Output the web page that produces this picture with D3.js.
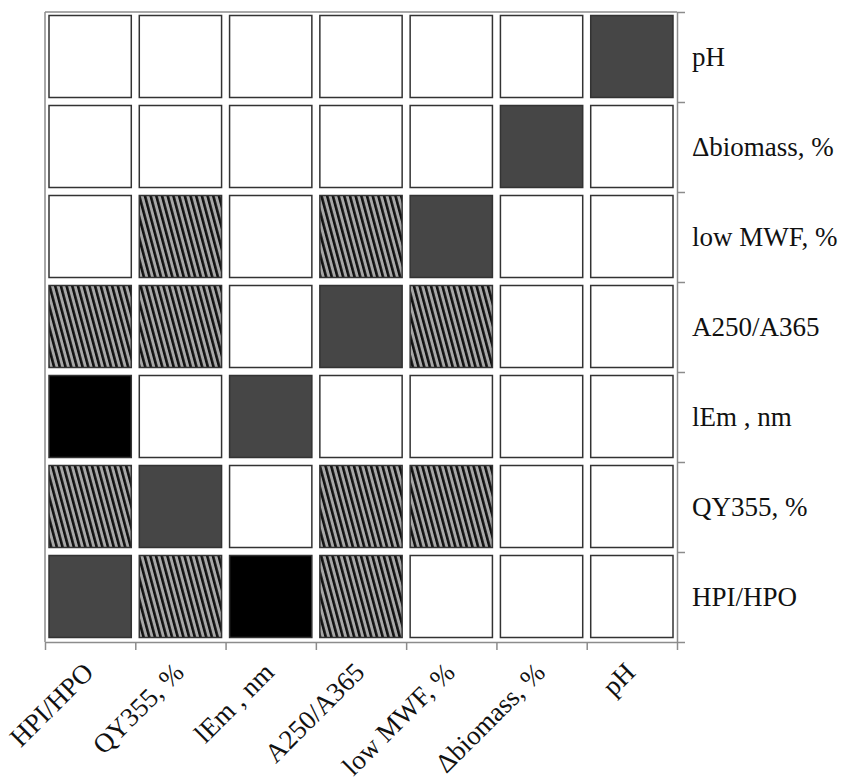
<!DOCTYPE html>
<html>
<head>
<meta charset="utf-8">
<script src="https://cdn.jsdelivr.net/npm/d3@7"></script>
<style>
  html, body { margin: 0; padding: 0; background: #fff; }
  svg { display: block; }
</style>
</head>
<body>
<div id="chart"></div>
<script>
// Variables (x: left → right, y: bottom → top)
const variables = ["HPI/HPO", "QY355, %", "lEm , nm", "A250/A365", "low MWF, %", "Δbiomass, %", "pH"];

// Correlation class per cell: 0 = none, 1 = moderate (hatched), 2 = strong (black), 3 = diagonal (self)
const rowHPI    = [3, 1, 2, 1, 0, 0, 0];
const rowQY     = [1, 3, 0, 1, 1, 0, 0];
const rowLEm    = [2, 0, 3, 0, 0, 0, 0];
const rowA250   = [1, 1, 0, 3, 1, 0, 0];
const rowLowMWF = [0, 1, 0, 1, 3, 0, 0];
const rowBio    = [0, 0, 0, 0, 0, 3, 0];
const rowPH     = [0, 0, 0, 0, 0, 0, 3];
const matrix = [rowHPI, rowQY, rowLEm, rowA250, rowLowMWF, rowBio, rowPH];

const W = 844, H = 780;
const mLeft = 45, mRight = 677, mTop = 12, mBottom = 642;

const svg = d3.select("#chart").append("svg").attr("width", W).attr("height", H);

const defs = svg.append("defs");
const pat = defs.append("pattern")
  .attr("id", "hatch")
  .attr("patternUnits", "userSpaceOnUse")
  .attr("width", 5.5).attr("height", 10)
  .attr("patternTransform", "rotate(-15)");
pat.append("rect").attr("width", 5.5).attr("height", 10).attr("fill", "#a8a8a8");
pat.append("rect").attr("width", 2.6).attr("height", 10).attr("fill", "#111");

const x = d3.scaleBand().domain(variables).range([mLeft, mRight]);
const y = d3.scaleBand().domain(variables).range([mBottom, mTop]);
const xEdge = d3.scaleLinear().domain([0, variables.length]).range([mLeft, mRight]);
const yEdge = d3.scaleLinear().domain([0, variables.length]).range([mBottom, mTop]);

const fills = ["#ffffff", "url(#hatch)", "#000000", "#464646"];

const cells = [];
variables.forEach((rv, i) => variables.forEach((cv, j) => cells.push({ row: rv, col: cv, v: matrix[i][j] })));

const inset = 4;
svg.append("g").selectAll("rect").data(cells).join("rect")
  .attr("x", d => x(d.col) + inset)
  .attr("y", d => y(d.row) + inset - 0.5)
  .attr("width", x.bandwidth() - 2 * inset)
  .attr("height", y.bandwidth() - 2 * inset)
  .attr("fill", d => fills[d.v])
  .attr("stroke", "#333")
  .attr("stroke-width", 1.5);

const axisColor = "#8c8c8c";
// frame: left + top lines
svg.append("line").attr("x1", mLeft).attr("x2", mLeft).attr("y1", mTop).attr("y2", mBottom)
  .attr("stroke", axisColor).attr("stroke-width", 1.5);
svg.append("line").attr("x1", mLeft).attr("x2", mRight).attr("y1", mTop).attr("y2", mTop)
  .attr("stroke", axisColor).attr("stroke-width", 1.5);

const tickVals = d3.range(variables.length + 1);
const gx = svg.append("g").attr("transform", `translate(0,${mBottom})`)
  .call(d3.axisBottom(xEdge).tickValues(tickVals).tickFormat("").tickSize(8).tickSizeOuter(0));
const gy = svg.append("g").attr("transform", `translate(${mRight},0)`)
  .call(d3.axisRight(yEdge).tickValues(tickVals).tickFormat("").tickSize(8).tickSizeOuter(0));
[gx, gy].forEach(g => {
  g.selectAll("path,line").attr("stroke", axisColor).attr("stroke-width", 1.5);
});

const font = "'Liberation Serif', 'Times New Roman', serif";
const fs = 27;

svg.append("g").selectAll("text").data(variables).join("text")
  .attr("x", 692)
  .attr("y", d => y(d) + y.bandwidth() / 2 + 9)
  .attr("font-family", font).attr("font-size", fs).attr("fill", "#111")
  .text(d => d);

svg.append("g").selectAll("text").data(variables).join("text")
  .attr("transform", d => `translate(${x(d) + x.bandwidth() / 2 + 5},${674}) rotate(-45)`)
  .attr("text-anchor", "end")
  .attr("font-family", font).attr("font-size", fs).attr("fill", "#111")
  .text(d => d);
</script>
</body>
</html>
